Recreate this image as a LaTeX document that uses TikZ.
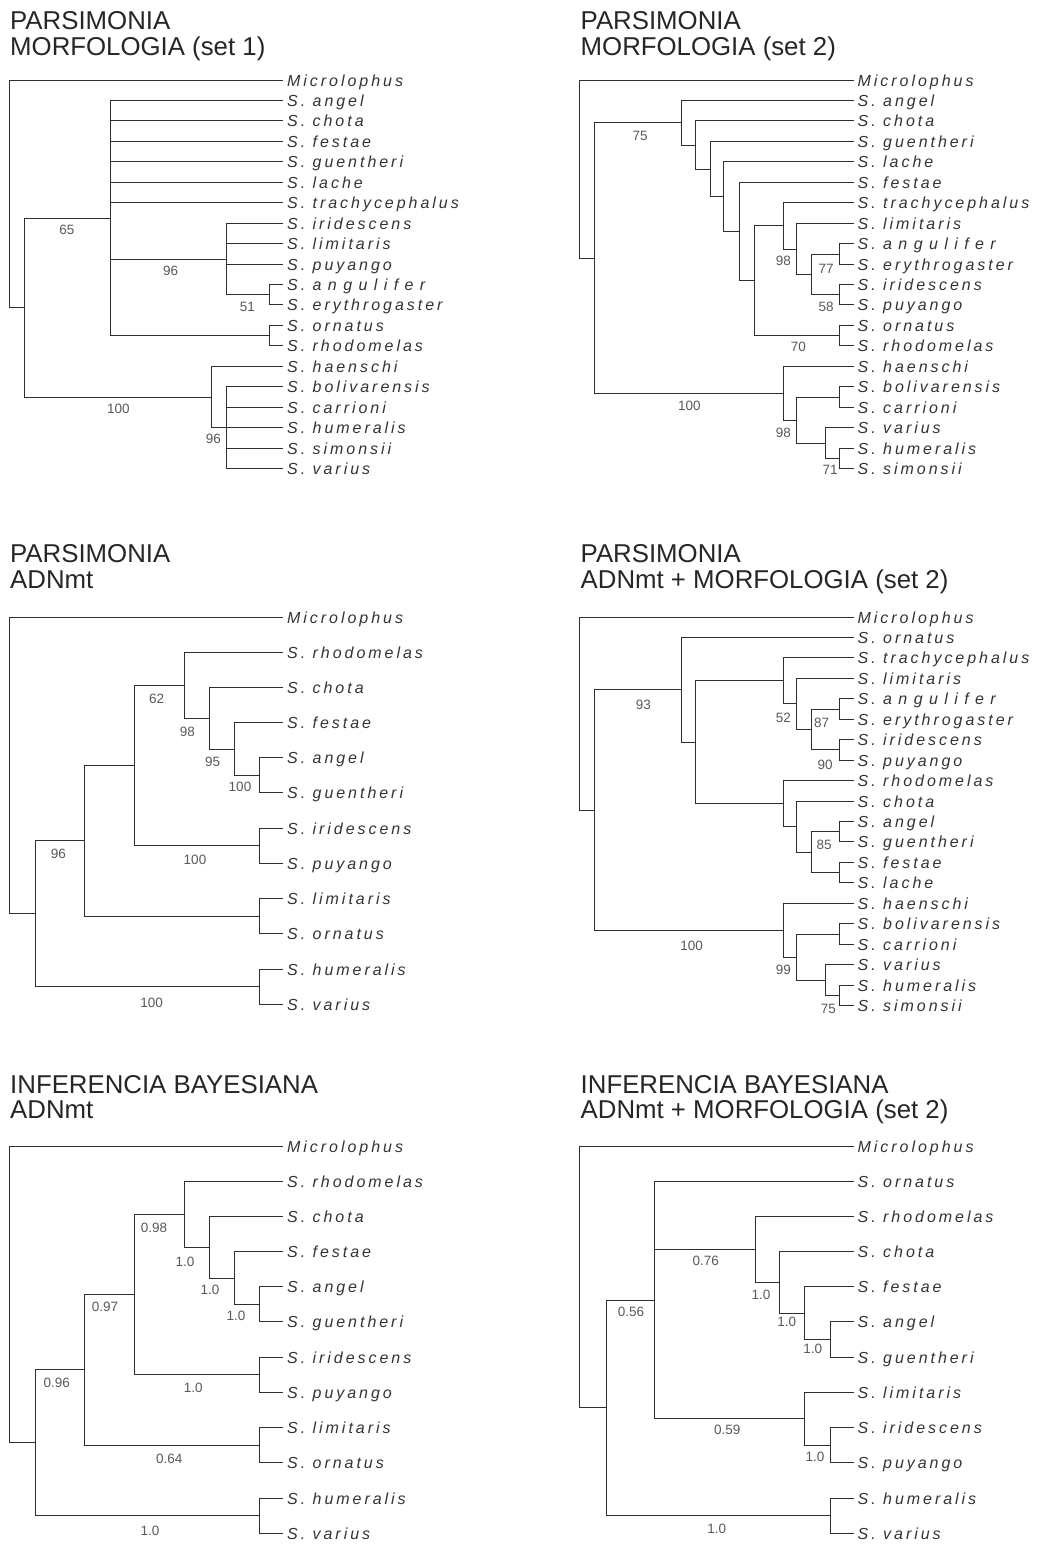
\documentclass[tikz,border=0pt]{standalone}
\usepackage{fontspec}
\setmainfont{Liberation Sans}
\newfontfamily\taxonfont[LetterSpace=18.5]{Liberation Sans}
\newcommand{\spreadname}[1]{{\addfontfeature{LetterSpace=40}#1}}
\usepackage{tikz}

\begin{document}
\begin{tikzpicture}[
    x=1pt, y=-1pt,
    branch/.style={line width=1.6pt, black!82},
    taxon/.style={anchor=west, inner xsep=4pt, inner ysep=0pt, text height=11.5pt, text depth=0pt,
        font=\taxonfont\itshape\fontsize{16}{18}\selectfont, text=black!80},
    support label/.style={inner sep=0pt, font=\fontsize{13.5}{15}\selectfont, text=black!65},
    panel title/.style={anchor=base west, inner sep=0pt, font=\fontsize{25.8}{30}\selectfont, text=black!85}
]

\useasboundingbox (0,0) rectangle (1037,1544);

% Parsimonia, morfologia (set 1)
\begin{scope}
    \node[panel title] (t1h1) at (10,29.5) {PARSIMONIA};
    \node[panel title] (t1h2) at (10,55.5) {MORFOLOGIA (set 1)};

    \node[taxon] (t1mic) at (283,80.5) {Microlophus};
    \node[taxon] (t1ang) at (283,100.5) {S. angel};
    \node[taxon] (t1cho) at (283,120.5) {S. chota};
    \node[taxon] (t1fes) at (283,141.5) {S. festae};
    \node[taxon] (t1gue) at (283,161.5) {S. guentheri};
    \node[taxon] (t1lac) at (283,182.5) {S. lache};
    \node[taxon] (t1tra) at (283,202.5) {S. trachycephalus};
    \node[taxon] (t1iri) at (283,223.5) {S. iridescens};
    \node[taxon] (t1lim) at (283,243.5) {S. limitaris};
    \node[taxon] (t1puy) at (283,264.5) {S. puyango};
    \node[taxon] (t1anf) at (283,284.5) {S. \spreadname{angulifer}};
    \node[taxon] (t1ery) at (283,304.5) {S. erythrogaster};
    \node[taxon] (t1orn) at (283,325.5) {S. ornatus};
    \node[taxon] (t1rho) at (283,345.5) {S. rhodomelas};
    \node[taxon] (t1hae) at (283,366.5) {S. haenschi};
    \node[taxon] (t1bol) at (283,386.5) {S. bolivarensis};
    \node[taxon] (t1car) at (283,407.5) {S. carrioni};
    \node[taxon] (t1hum) at (283,427.5) {S. humeralis};
    \node[taxon] (t1sim) at (283,448.5) {S. simonsii};
    \node[taxon] (t1var) at (283,468.5) {S. varius};

    \coordinate (t1r) at (9.5,194.5);
    \coordinate (t1a) at (24.5,307.5);
    \coordinate (t1b) at (110.5,218.5);
    \coordinate (t1c) at (226.5,259.5);
    \coordinate (t1d) at (269.5,294.5);
    \coordinate (t1g) at (269.5,335.5);
    \coordinate (t1e) at (211.5,397.5);
    \coordinate (t1f) at (226.5,427.5);

    \draw[branch] (t1r) |- (t1mic.west) (t1r) |- (t1a);
    \draw[branch] (t1a) |- (t1b) (t1a) |- (t1e);
    \draw[branch] (t1b) |- (t1ang.west) (t1b) |- (t1cho.west) (t1b) |- (t1fes.west)
        (t1b) |- (t1gue.west) (t1b) |- (t1lac.west) (t1b) |- (t1tra.west)
        (t1b) |- (t1c) (t1b) |- (t1g);
    \draw[branch] (t1c) |- (t1iri.west) (t1c) |- (t1lim.west) (t1c) |- (t1puy.west) (t1c) |- (t1d);
    \draw[branch] (t1d) |- (t1anf.west) (t1d) |- (t1ery.west);
    \draw[branch] (t1g) |- (t1orn.west) (t1g) |- (t1rho.west);
    \draw[branch] (t1e) |- (t1hae.west) (t1e) |- (t1f);
    \draw[branch] (t1f) |- (t1bol.west) (t1f) |- (t1car.west) (t1f) |- (t1hum.west)
        (t1f) |- (t1sim.west) (t1f) |- (t1var.west);

    \node[support label] (t1sb) at (67,230) {65};
    \node[support label] (t1sc) at (170.7,271) {96};
    \node[support label] (t1sd) at (247.3,306.7) {51};
    \node[support label] (t1se) at (118.3,409) {100};
    \node[support label] (t1sf) at (213.3,439) {96};
\end{scope}

% Parsimonia, morfologia (set 2)
\begin{scope}[shift={(570.5,0)}]
    \node[panel title] (t2h1) at (10,29.5) {PARSIMONIA};
    \node[panel title] (t2h2) at (10,55.5) {MORFOLOGIA (set 2)};

    \node[taxon] (t2mic) at (283,80.5) {Microlophus};
    \node[taxon] (t2ang) at (283,100.5) {S. angel};
    \node[taxon] (t2cho) at (283,120.5) {S. chota};
    \node[taxon] (t2gue) at (283,141.5) {S. guentheri};
    \node[taxon] (t2lac) at (283,161.5) {S. lache};
    \node[taxon] (t2fes) at (283,182.5) {S. festae};
    \node[taxon] (t2tra) at (283,202.5) {S. trachycephalus};
    \node[taxon] (t2lim) at (283,223.5) {S. limitaris};
    \node[taxon] (t2anf) at (283,243.5) {S. \spreadname{angulifer}};
    \node[taxon] (t2ery) at (283,264.5) {S. erythrogaster};
    \node[taxon] (t2iri) at (283,284.5) {S. iridescens};
    \node[taxon] (t2puy) at (283,304.5) {S. puyango};
    \node[taxon] (t2orn) at (283,325.5) {S. ornatus};
    \node[taxon] (t2rho) at (283,345.5) {S. rhodomelas};
    \node[taxon] (t2hae) at (283,366.5) {S. haenschi};
    \node[taxon] (t2bol) at (283,386.5) {S. bolivarensis};
    \node[taxon] (t2car) at (283,407.5) {S. carrioni};
    \node[taxon] (t2var) at (283,427.5) {S. varius};
    \node[taxon] (t2hum) at (283,448.5) {S. humeralis};
    \node[taxon] (t2sim) at (283,468.5) {S. simonsii};

    \coordinate (t2r) at (9,169.5);
    \coordinate (t2a) at (24,258.5);
    \coordinate (t2b) at (111,122.5);
    \coordinate (t2c) at (125,145.5);
    \coordinate (t2d) at (140,169.5);
    \coordinate (t2e) at (153,196.5);
    \coordinate (t2f) at (169,231.5);
    \coordinate (t2g) at (184,280.5);
    \coordinate (t2h) at (213,225.5);
    \coordinate (t2j) at (226,249.5);
    \coordinate (t2k) at (241,274.5);
    \coordinate (t2l) at (269,254.5);
    \coordinate (t2m) at (269,294.5);
    \coordinate (t2i) at (269,335.5);
    \coordinate (t2n) at (213,393.5);
    \coordinate (t2o) at (226,420.5);
    \coordinate (t2p) at (269,397.5);
    \coordinate (t2q) at (255,443.5);
    \coordinate (t2s) at (269,458.5);

    \draw[branch] (t2r) |- (t2mic.west) (t2r) |- (t2a);
    \draw[branch] (t2a) |- (t2b) (t2a) |- (t2n);
    \draw[branch] (t2b) |- (t2ang.west) (t2b) |- (t2c);
    \draw[branch] (t2c) |- (t2cho.west) (t2c) |- (t2d);
    \draw[branch] (t2d) |- (t2gue.west) (t2d) |- (t2e);
    \draw[branch] (t2e) |- (t2lac.west) (t2e) |- (t2f);
    \draw[branch] (t2f) |- (t2fes.west) (t2f) |- (t2g);
    \draw[branch] (t2g) |- (t2h) (t2g) |- (t2i);
    \draw[branch] (t2h) |- (t2tra.west) (t2h) |- (t2j);
    \draw[branch] (t2j) |- (t2lim.west) (t2j) |- (t2k);
    \draw[branch] (t2k) |- (t2l) (t2k) |- (t2m);
    \draw[branch] (t2l) |- (t2anf.west) (t2l) |- (t2ery.west);
    \draw[branch] (t2m) |- (t2iri.west) (t2m) |- (t2puy.west);
    \draw[branch] (t2i) |- (t2orn.west) (t2i) |- (t2rho.west);
    \draw[branch] (t2n) |- (t2hae.west) (t2n) |- (t2o);
    \draw[branch] (t2o) |- (t2p) (t2o) |- (t2q);
    \draw[branch] (t2p) |- (t2bol.west) (t2p) |- (t2car.west);
    \draw[branch] (t2q) |- (t2var.west) (t2q) |- (t2s);
    \draw[branch] (t2s) |- (t2hum.west) (t2s) |- (t2sim.west);

    \node[support label] (t2sb) at (69.5,136) {75};
    \node[support label] (t2sj) at (212.8,260.7) {98};
    \node[support label] (t2sl) at (255.5,269) {77};
    \node[support label] (t2sm) at (255.5,306.7) {58};
    \node[support label] (t2si) at (227.8,347.3) {70};
    \node[support label] (t2sn) at (118.8,406) {100};
    \node[support label] (t2so) at (212.8,432.7) {98};
    \node[support label] (t2ss) at (259.5,470) {71};
\end{scope}

% Parsimonia, ADNmt
\begin{scope}[shift={(0,537)}]
    \node[panel title] (t3h1) at (10,25) {PARSIMONIA};
    \node[panel title] (t3h2) at (10,51.5) {ADNmt};

    \node[taxon] (t3mic) at (283,80.5) {Microlophus};
    \node[taxon] (t3rho) at (283,115.5) {S. rhodomelas};
    \node[taxon] (t3cho) at (283,150.5) {S. chota};
    \node[taxon] (t3fes) at (283,185.5) {S. festae};
    \node[taxon] (t3ang) at (283,220.5) {S. angel};
    \node[taxon] (t3gue) at (283,255.5) {S. guentheri};
    \node[taxon] (t3iri) at (283,291.5) {S. iridescens};
    \node[taxon] (t3puy) at (283,326.5) {S. puyango};
    \node[taxon] (t3lim) at (283,361.5) {S. limitaris};
    \node[taxon] (t3orn) at (283,396.5) {S. ornatus};
    \node[taxon] (t3hum) at (283,432.5) {S. humeralis};
    \node[taxon] (t3var) at (283,467.5) {S. varius};

    \coordinate (t3r) at (9.5,228.5);
    \coordinate (t3a) at (35.5,376.5);
    \coordinate (t3b) at (84.5,303.5);
    \coordinate (t3c) at (134.5,228.5);
    \coordinate (t3d) at (184.5,148.5);
    \coordinate (t3e) at (209.5,181.5);
    \coordinate (t3f) at (234.5,212.5);
    \coordinate (t3g) at (259.5,238.5);
    \coordinate (t3h) at (259.5,308.5);
    \coordinate (t3i) at (259.5,379.5);
    \coordinate (t3j) at (259.5,449.5);

    \draw[branch] (t3r) |- (t3mic.west) (t3r) |- (t3a);
    \draw[branch] (t3a) |- (t3b) (t3a) |- (t3j);
    \draw[branch] (t3b) |- (t3c) (t3b) |- (t3i);
    \draw[branch] (t3c) |- (t3d) (t3c) |- (t3h);
    \draw[branch] (t3d) |- (t3rho.west) (t3d) |- (t3e);
    \draw[branch] (t3e) |- (t3cho.west) (t3e) |- (t3f);
    \draw[branch] (t3f) |- (t3fes.west) (t3f) |- (t3g);
    \draw[branch] (t3g) |- (t3ang.west) (t3g) |- (t3gue.west);
    \draw[branch] (t3h) |- (t3iri.west) (t3h) |- (t3puy.west);
    \draw[branch] (t3i) |- (t3lim.west) (t3i) |- (t3orn.west);
    \draw[branch] (t3j) |- (t3hum.west) (t3j) |- (t3var.west);

    \node[support label] (t3sd) at (156.7,162.3) {62};
    \node[support label] (t3se) at (187.3,195.3) {98};
    \node[support label] (t3sf) at (212.7,224.7) {95};
    \node[support label] (t3sg) at (240,249.7) {100};
    \node[support label] (t3sh) at (195,323) {100};
    \node[support label] (t3sb) at (58.3,317) {96};
    \node[support label] (t3sj) at (151.7,465.7) {100};
\end{scope}

% Parsimonia, ADNmt + morfologia (set 2)
\begin{scope}[shift={(570.5,537)}]
    \node[panel title] (t4h1) at (10,25) {PARSIMONIA};
    \node[panel title] (t4h2) at (10,51.5) {ADNmt + MORFOLOGIA (set 2)};

    \node[taxon] (t4mic) at (283,80.5) {Microlophus};
    \node[taxon] (t4orn) at (283,100.5) {S. ornatus};
    \node[taxon] (t4tra) at (283,120.5) {S. trachycephalus};
    \node[taxon] (t4lim) at (283,141.5) {S. limitaris};
    \node[taxon] (t4anf) at (283,161.5) {S. \spreadname{angulifer}};
    \node[taxon] (t4ery) at (283,182.5) {S. erythrogaster};
    \node[taxon] (t4iri) at (283,202.5) {S. iridescens};
    \node[taxon] (t4puy) at (283,223.5) {S. puyango};
    \node[taxon] (t4rho) at (283,243.5) {S. rhodomelas};
    \node[taxon] (t4cho) at (283,264.5) {S. chota};
    \node[taxon] (t4ang) at (283,284.5) {S. angel};
    \node[taxon] (t4gue) at (283,304.5) {S. guentheri};
    \node[taxon] (t4fes) at (283,325.5) {S. festae};
    \node[taxon] (t4lac) at (283,345.5) {S. lache};
    \node[taxon] (t4hae) at (283,366.5) {S. haenschi};
    \node[taxon] (t4bol) at (283,386.5) {S. bolivarensis};
    \node[taxon] (t4car) at (283,407.5) {S. carrioni};
    \node[taxon] (t4var) at (283,427.5) {S. varius};
    \node[taxon] (t4hum) at (283,448.5) {S. humeralis};
    \node[taxon] (t4sim) at (283,468.5) {S. simonsii};

    \coordinate (t4r) at (9,177);
    \coordinate (t4a) at (24,273.5);
    \coordinate (t4f) at (111,152.5);
    \coordinate (t4g) at (125,205.5);
    \coordinate (t4h) at (213,143.5);
    \coordinate (t4j) at (226,166.5);
    \coordinate (t4k) at (241,192.5);
    \coordinate (t4l) at (269,172.5);
    \coordinate (t4m) at (269,212.5);
    \coordinate (t4n) at (213,266.5);
    \coordinate (t4o) at (226,289.5);
    \coordinate (t4p) at (241,315.5);
    \coordinate (t4q) at (269,294.5);
    \coordinate (t4v) at (269,335.5);
    \coordinate (t4s) at (213,393.5);
    \coordinate (t4t) at (226,420.5);
    \coordinate (t4u) at (269,397.5);
    \coordinate (t4x) at (255,443.5);
    \coordinate (t4w) at (269,458.5);

    \draw[branch] (t4r) |- (t4mic.west) (t4r) |- (t4a);
    \draw[branch] (t4a) |- (t4f) (t4a) |- (t4s);
    \draw[branch] (t4f) |- (t4orn.west) (t4f) |- (t4g);
    \draw[branch] (t4g) |- (t4h) (t4g) |- (t4n);
    \draw[branch] (t4h) |- (t4tra.west) (t4h) |- (t4j);
    \draw[branch] (t4j) |- (t4lim.west) (t4j) |- (t4k);
    \draw[branch] (t4k) |- (t4l) (t4k) |- (t4m);
    \draw[branch] (t4l) |- (t4anf.west) (t4l) |- (t4ery.west);
    \draw[branch] (t4m) |- (t4iri.west) (t4m) |- (t4puy.west);
    \draw[branch] (t4n) |- (t4rho.west) (t4n) |- (t4o);
    \draw[branch] (t4o) |- (t4cho.west) (t4o) |- (t4p);
    \draw[branch] (t4p) |- (t4q) (t4p) |- (t4v);
    \draw[branch] (t4q) |- (t4ang.west) (t4q) |- (t4gue.west);
    \draw[branch] (t4v) |- (t4fes.west) (t4v) |- (t4lac.west);
    \draw[branch] (t4s) |- (t4hae.west) (t4s) |- (t4t);
    \draw[branch] (t4t) |- (t4u) (t4t) |- (t4x);
    \draw[branch] (t4u) |- (t4bol.west) (t4u) |- (t4car.west);
    \draw[branch] (t4x) |- (t4var.west) (t4x) |- (t4w);
    \draw[branch] (t4w) |- (t4hum.west) (t4w) |- (t4sim.west);

    \node[support label] (t4sf) at (72.8,168) {93};
    \node[support label] (t4sj) at (212.8,181.3) {52};
    \node[support label] (t4sl) at (251.2,186.3) {87};
    \node[support label] (t4sm) at (254.5,228) {90};
    \node[support label] (t4sq) at (253.5,308) {85};
    \node[support label] (t4ss) at (121.2,408.7) {100};
    \node[support label] (t4st) at (212.8,433) {99};
    \node[support label] (t4sw) at (257.8,472.3) {75};
\end{scope}

% Inferencia bayesiana, ADNmt
\begin{scope}[shift={(0,1066)}]
    \node[panel title] (t5h1) at (10,27.3) {INFERENCIA BAYESIANA};
    \node[panel title] (t5h2) at (10,52.5) {ADNmt};

    \node[taxon] (t5mic) at (283,80.5) {Microlophus};
    \node[taxon] (t5rho) at (283,115.5) {S. rhodomelas};
    \node[taxon] (t5cho) at (283,150.5) {S. chota};
    \node[taxon] (t5fes) at (283,185.5) {S. festae};
    \node[taxon] (t5ang) at (283,220.5) {S. angel};
    \node[taxon] (t5gue) at (283,255.5) {S. guentheri};
    \node[taxon] (t5iri) at (283,291.5) {S. iridescens};
    \node[taxon] (t5puy) at (283,326.5) {S. puyango};
    \node[taxon] (t5lim) at (283,361.5) {S. limitaris};
    \node[taxon] (t5orn) at (283,396.5) {S. ornatus};
    \node[taxon] (t5hum) at (283,432.5) {S. humeralis};
    \node[taxon] (t5var) at (283,467.5) {S. varius};

    \coordinate (t5r) at (9.5,228.5);
    \coordinate (t5a) at (35.5,376.5);
    \coordinate (t5b) at (84.5,303.5);
    \coordinate (t5c) at (134.5,228.5);
    \coordinate (t5d) at (184.5,148.5);
    \coordinate (t5e) at (209.5,181.5);
    \coordinate (t5f) at (234.5,212.5);
    \coordinate (t5g) at (259.5,238.5);
    \coordinate (t5h) at (259.5,308.5);
    \coordinate (t5i) at (259.5,379.5);
    \coordinate (t5j) at (259.5,449.5);

    \draw[branch] (t5r) |- (t5mic.west) (t5r) |- (t5a);
    \draw[branch] (t5a) |- (t5b) (t5a) |- (t5j);
    \draw[branch] (t5b) |- (t5c) (t5b) |- (t5i);
    \draw[branch] (t5c) |- (t5d) (t5c) |- (t5h);
    \draw[branch] (t5d) |- (t5rho.west) (t5d) |- (t5e);
    \draw[branch] (t5e) |- (t5cho.west) (t5e) |- (t5f);
    \draw[branch] (t5f) |- (t5fes.west) (t5f) |- (t5g);
    \draw[branch] (t5g) |- (t5ang.west) (t5g) |- (t5gue.west);
    \draw[branch] (t5h) |- (t5iri.west) (t5h) |- (t5puy.west);
    \draw[branch] (t5i) |- (t5lim.west) (t5i) |- (t5orn.west);
    \draw[branch] (t5j) |- (t5hum.west) (t5j) |- (t5var.west);

    \node[support label] (t5sd) at (154,161.7) {0.98};
    \node[support label] (t5se) at (185,195.7) {1.0};
    \node[support label] (t5sf) at (210,224) {1.0};
    \node[support label] (t5sg) at (236,250) {1.0};
    \node[support label] (t5sc) at (105,241.3) {0.97};
    \node[support label] (t5sb) at (56.7,317.3) {0.96};
    \node[support label] (t5sh) at (193.3,322.3) {1.0};
    \node[support label] (t5si) at (169.3,393) {0.64};
    \node[support label] (t5sj) at (150,464.7) {1.0};
\end{scope}

% Inferencia bayesiana, ADNmt + morfologia (set 2)
\begin{scope}[shift={(570.5,1066)}]
    \node[panel title] (t6h1) at (10,27.3) {INFERENCIA BAYESIANA};
    \node[panel title] (t6h2) at (10,52.5) {ADNmt + MORFOLOGIA (set 2)};

    \node[taxon] (t6mic) at (283,80.5) {Microlophus};
    \node[taxon] (t6orn) at (283,115.5) {S. ornatus};
    \node[taxon] (t6rho) at (283,150.5) {S. rhodomelas};
    \node[taxon] (t6cho) at (283,185.5) {S. chota};
    \node[taxon] (t6fes) at (283,220.5) {S. festae};
    \node[taxon] (t6ang) at (283,255.5) {S. angel};
    \node[taxon] (t6gue) at (283,291.5) {S. guentheri};
    \node[taxon] (t6lim) at (283,326.5) {S. limitaris};
    \node[taxon] (t6iri) at (283,361.5) {S. iridescens};
    \node[taxon] (t6puy) at (283,396.5) {S. puyango};
    \node[taxon] (t6hum) at (283,432.5) {S. humeralis};
    \node[taxon] (t6var) at (283,467.5) {S. varius};

    \coordinate (t6r) at (9,211);
    \coordinate (t6b) at (36,341.5);
    \coordinate (t6c) at (84,234.5);
    \coordinate (t6d) at (185,183.5);
    \coordinate (t6e) at (209,216.5);
    \coordinate (t6f) at (234,247.5);
    \coordinate (t6g) at (260,273.5);
    \coordinate (t6h) at (234,352.5);
    \coordinate (t6i) at (260,379.5);
    \coordinate (t6j) at (260,449.5);

    \draw[branch] (t6r) |- (t6mic.west) (t6r) |- (t6b);
    \draw[branch] (t6b) |- (t6c) (t6b) |- (t6j);
    \draw[branch] (t6c) |- (t6orn.west) (t6c) |- (t6d) (t6c) |- (t6h);
    \draw[branch] (t6d) |- (t6rho.west) (t6d) |- (t6e);
    \draw[branch] (t6e) |- (t6cho.west) (t6e) |- (t6f);
    \draw[branch] (t6f) |- (t6fes.west) (t6f) |- (t6g);
    \draw[branch] (t6g) |- (t6ang.west) (t6g) |- (t6gue.west);
    \draw[branch] (t6h) |- (t6lim.west) (t6h) |- (t6i);
    \draw[branch] (t6i) |- (t6iri.west) (t6i) |- (t6puy.west);
    \draw[branch] (t6j) |- (t6hum.west) (t6j) |- (t6var.west);

    \node[support label] (t6sd) at (135.2,195) {0.76};
    \node[support label] (t6se) at (190.5,229) {1.0};
    \node[support label] (t6sf) at (216.2,256.3) {1.0};
    \node[support label] (t6sg) at (242.2,283) {1.0};
    \node[support label] (t6sc) at (60.5,246.3) {0.56};
    \node[support label] (t6sh) at (156.8,364) {0.59};
    \node[support label] (t6si) at (244.5,390.7) {1.0};
    \node[support label] (t6sj) at (146.2,463.3) {1.0};
\end{scope}

\end{tikzpicture}
\end{document}
